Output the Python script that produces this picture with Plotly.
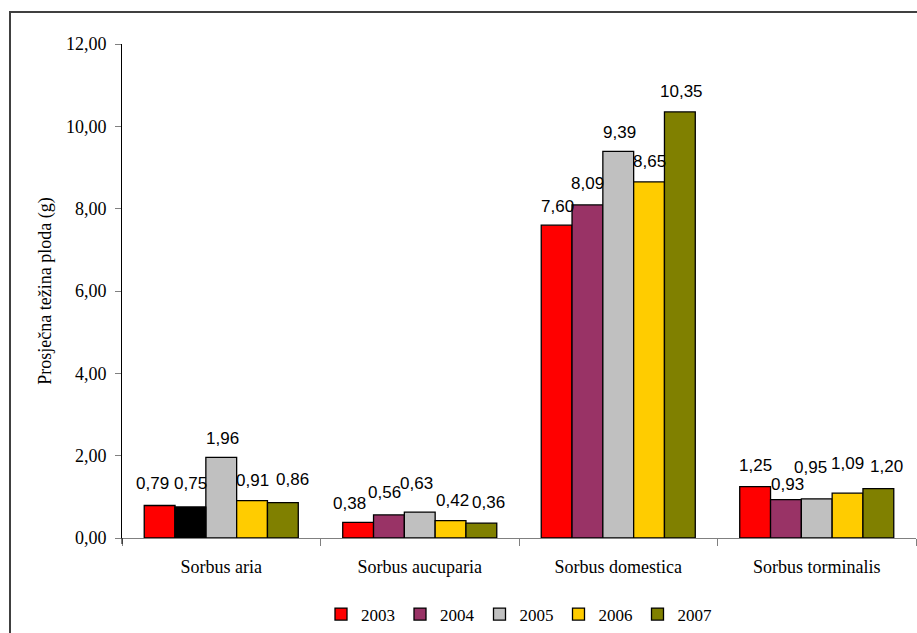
import plotly.graph_objects as go

categories = ["Sorbus aria", "Sorbus aucuparia", "Sorbus domestica", "Sorbus torminalis"]
years = ["2003", "2004", "2005", "2006", "2007"]
v2003 = [0.79, 0.38, 7.60, 1.25]
v2004 = [0.75, 0.56, 8.09, 0.93]
v2005 = [1.96, 0.63, 9.39, 0.95]
v2006 = [0.91, 0.42, 8.65, 1.09]
v2007 = [0.86, 0.36, 10.35, 1.20]
series = [v2003, v2004, v2005, v2006, v2007]

colors = ["#FF0000", "#993366", "#C0C0C0", "#FFCC00", "#808000"]
# In the original the 2004 bar of Sorbus aria is drawn black
black_year, black_cat = "2004", 0

# small pixel nudges of data labels (dx, dy) as placed in the original (style only)
label_nudge = [
    [(-7, 2), (-9, -1), (1, -1), (0, 1)],
    [(0, 4), (-4, 2), (0, 1), (2, -5)],
    [(1, -1), (-3, 9), (1, -1), (-6, 11)],
    [(0, 0), (2, 0), (0, 0), (0, 10)],
    [(10, 3), (7, 1), (2, 0), (8, 2)],
]

L, R, T, B = 122, 1, 44, 95
W, H = 917, 633
bargap = 0.224
plot_w = W - L - R
plot_h = H - T - B
cat_w = plot_w / len(categories)
bar_w = cat_w * (1 - bargap) / len(years)

fig = go.Figure()
for i, (yr, vals) in enumerate(zip(years, series)):
    fig.add_trace(go.Bar(
        name=yr, x=categories, y=vals, offsetgroup=yr,
        marker=dict(color=colors[i], line=dict(color="#000000", width=1.3)),
        hoverinfo="skip",
    ))
    for j, v in enumerate(vals):
        dx, dy = label_nudge[i][j]
        fig.add_annotation(
            x=categories[j], y=v, xref="x", yref="y",
            text=f"{v:.2f}".replace(".", ","),
            showarrow=False, yanchor="middle", xanchor="center",
            xshift=(i - (len(years) - 1) / 2) * bar_w + dx, yshift=20 + dy,
            font=dict(family="Liberation Sans, Arial", size=17, color="#000000"),
        )

# black overlay bar for the one differently coloured point
bi = years.index(black_year)
fig.add_trace(go.Bar(
    x=[categories[black_cat]], y=[series[bi][black_cat]], offsetgroup=black_year,
    marker=dict(color="#000000", line=dict(color="#000000", width=1.3)),
    showlegend=False, hoverinfo="skip",
))

# outer chart frame
fig.add_shape(type="rect", xref="paper", yref="paper",
              x0=(10 - L) / plot_w, x1=1.05,
              y0=-0.4, y1=1 + (T - 12) / plot_h,
              line=dict(color="#404040", width=2), fillcolor="rgba(0,0,0,0)")
# value axis continues a little below the category axis
fig.add_shape(type="line", xref="paper", yref="paper",
              x0=0, x1=0, y0=0, y1=-6 / plot_h,
              line=dict(color="#000000", width=1))

serif = "Liberation Serif, Times New Roman, serif"
fig.update_layout(
    width=W, height=H,
    margin=dict(l=L, r=R, t=T, b=B),
    paper_bgcolor="white", plot_bgcolor="white",
    barmode="group", bargap=bargap, bargroupgap=0,
    separators=", ",
    font=dict(family=serif, size=18, color="#000000"),
    showlegend=True,
    legend=dict(orientation="h", x=0.5, xanchor="center", y=-0.155, yanchor="middle",
                font=dict(family=serif, size=17, color="#000000"), traceorder="normal",
                itemwidth=30, tracegroupgap=0),
    xaxis=dict(showline=True, linecolor="#808080", linewidth=1.3,
               ticks="outside", tickson="boundaries", ticklen=7, tickcolor="#808080",
               tickfont=dict(family=serif, size=18), showgrid=False,
               ticklabelstandoff=12,
               range=[-0.5, len(categories) - 0.5]),
    yaxis=dict(range=[0, 12], dtick=2, tickformat=".2f",
               showline=True, linecolor="#000000", linewidth=1,
               ticks="outside", ticklen=6, tickcolor="#808080",
               showgrid=False, zeroline=False, ticklabelstandoff=5,
               tickfont=dict(family=serif, size=18),
               title=dict(text="Prosječna težina ploda (g)", font=dict(family=serif, size=18),
                          standoff=9)),
)

fig.write_html("out.html", config={"displayModeBar": False},
               post_script="document.body.style.margin='0';")
